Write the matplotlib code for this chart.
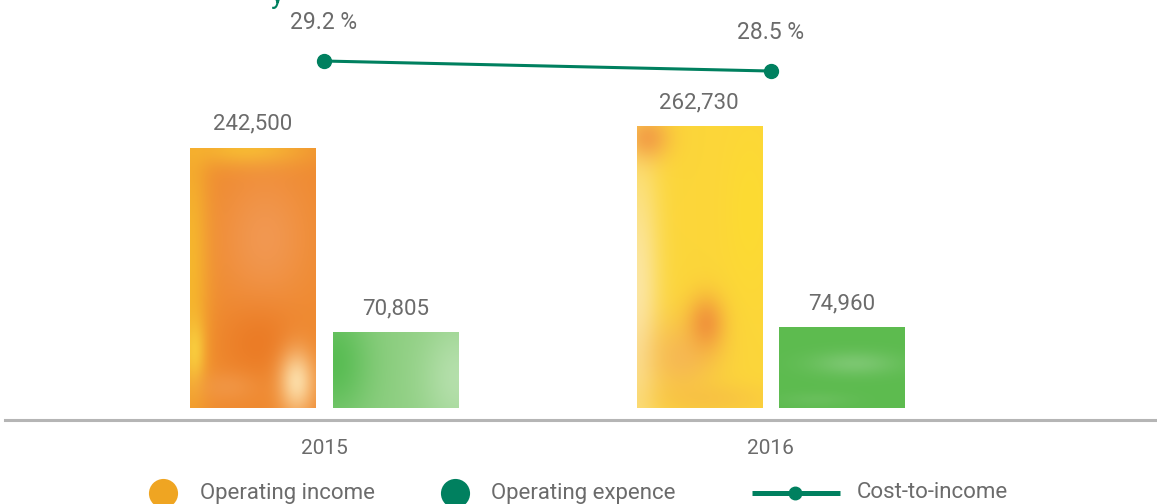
import matplotlib.pyplot as plt
import numpy as np
from matplotlib.colors import to_rgb

plt.rcParams["font.family"] = ["Roboto", "DejaVu Sans"]

years = ["2015", "2016"]
operating_income = [242500, 262730]
operating_expense = [70805, 74960]
cost_to_income = [29.2, 28.5]
legend_labels = ["Operating income", "Operating expence", "Cost-to-income"]

GRAY = "#6b6b6b"
GREEN = "#00805f"
ORANGE = "#efa522"

# watercolour-ish fills: base colour plus soft blobs (u across, v down, spread u/v, colour, strength)
TEXTURES = {
    "inc2015": ("#ef8a30", [(0.0, 0.45, 0.15, 0.6, "#f8c42a", 0.75),
                            (0.45, 0.0, 0.5, 0.07, "#f9c530", 0.8),
                            (0.6, 0.35, 0.35, 0.25, "#f4a878", 0.45),
                            (0.55, 0.75, 0.3, 0.15, "#e8701c", 0.55),
                            (0.85, 0.9, 0.14, 0.12, "#fde3b0", 0.9),
                            (0.03, 0.78, 0.08, 0.12, "#f9d040", 0.85),
                            (0.3, 0.92, 0.25, 0.06, "#f3a055", 0.5)]),
    "inc2016": ("#fcd63a", [(0.0, 0.6, 0.18, 0.55, "#fce9b8", 0.8),
                            (0.9, 0.3, 0.2, 0.3, "#fde02a", 0.5),
                            (0.35, 0.82, 0.3, 0.14, "#f3a860", 0.6),
                            (0.55, 0.7, 0.15, 0.1, "#ef8a3a", 0.8),
                            (0.08, 0.04, 0.18, 0.08, "#f09040", 0.75),
                            (0.6, 0.97, 0.45, 0.06, "#f5b548", 0.5)]),
    "exp2015": ("#8fcf82", [(0.0, 0.4, 0.3, 0.8, "#4cb848", 0.8),
                            (1.0, 0.6, 0.3, 0.8, "#c4e6bc", 0.7)]),
    "exp2016": ("#5dbb4f", [(0.6, 0.45, 0.35, 0.15, "#93d08a", 0.55),
                            (0.3, 0.9, 0.3, 0.1, "#78c46c", 0.4)]),
}


def texture(base, blobs, shape=(240, 120)):
    v, u = np.mgrid[0:1:shape[0] * 1j, 0:1:shape[1] * 1j]
    img = np.ones(shape + (3,)) * to_rgb(base)
    for cu, cv, su, sv, col, strength in blobs:
        wt = strength * np.exp(-((u - cu) / su) ** 2 - ((v - cv) / sv) ** 2)
        img = img * (1 - wt[..., None]) + np.array(to_rgb(col)) * wt[..., None]
    return img


def paint(ax, patch, key):
    base, blobs = TEXTURES[key]
    x0, w, h = patch.get_x(), patch.get_width(), patch.get_height()
    ax.imshow(texture(base, blobs), extent=[x0, x0 + w, 0, h], aspect="auto",
              origin="upper", interpolation="bilinear", zorder=2)


def main() -> None:
    fig = plt.figure(figsize=(11.57, 5.04), dpi=100)
    ax = fig.add_axes([0, 0, 1, 1])
    x = np.arange(len(years))
    width, offset = 0.28, 0.16

    inc = ax.bar(x - offset, operating_income, width, color="none", lw=0)
    exp = ax.bar(x + offset, operating_expense, width, color="none", lw=0)
    for patch, yr in zip(inc, years):
        paint(ax, patch, "inc" + yr)
    for patch, yr in zip(exp, years):
        paint(ax, patch, "exp" + yr)

    for bars, vals in ((inc, operating_income), (exp, operating_expense)):
        for patch, v in zip(bars, vals):
            ax.annotate(f"{v:,}", (patch.get_x() + patch.get_width() / 2, v),
                        xytext=(0, 17), textcoords="offset points",
                        ha="center", va="center", fontsize=16, color=GRAY)

    for xi, yr in zip(x, years):
        ax.annotate(yr, (xi, 0), xytext=(0, -29), textcoords="offset points",
                    ha="center", va="center", fontsize=15, color=GRAY)

    ax.axhline(-11200, xmin=0.004, xmax=1, color="#b5b5b5", lw=2.2)
    ax.set_xlim(-0.7257, 1.8656)
    ax.set_ylim(-89550, 380600)
    ax.axis("off")

    # cost-to-income line on its own scale
    ax2 = ax.twinx()
    ax2.set_position([0, 0, 1, 1])
    ax2.plot(x, cost_to_income, color=GREEN, lw=2.2, marker="o", ms=10)
    for xi, v in zip(x, cost_to_income):
        ax2.annotate(f"{v} %", (xi, v), xytext=(0, 28), textcoords="offset points",
                     ha="center", va="center", fontsize=16.5, color=GRAY)
    ax2.set_ylim(-1.8, 33.47)
    ax2.axis("off")

    # legend, drawn in pixel space along the bottom edge
    lg = fig.add_axes([0, 0, 1, 1], zorder=5)
    lg.set_xlim(0, 1157)
    lg.set_ylim(504, 0)
    lg.axis("off")
    lg.scatter([163], [493], s=440, color=ORANGE, lw=0)
    lg.scatter([455], [493], s=440, color=GREEN, lw=0)
    lg.plot([752, 840], [493, 493], color=GREEN, lw=3.6, solid_capstyle="butt")
    lg.plot([795], [493], "o", color=GREEN, ms=9)
    for xt, label in zip([200, 491, 857], legend_labels):
        lg.text(xt, 493, label, ha="left", va="center", fontsize=16, color=GRAY)

    # clipped title fragment at the very top (only its descender shows, as in the source)
    fig.text(277 / 1157, 1 - 3 / 504, "y", ha="center", va="baseline",
             fontsize=20, color=GREEN)

    fig.savefig("out.png", dpi=100)
    plt.close(fig)


if __name__ == "__main__":
    main()
